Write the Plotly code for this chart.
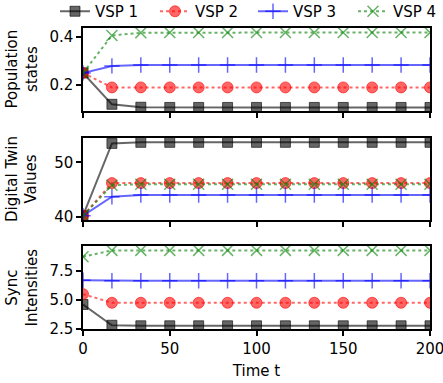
import plotly.graph_objects as go
from plotly.subplots import make_subplots

time_t = [0, 16.67, 33.33, 50, 66.67, 83.33, 100, 116.67, 133.33, 150, 166.67, 183.33, 200]
series_names = ["VSP 1", "VSP 2", "VSP 3", "VSP 4"]

pop_states = [
    [0.25, 0.12, 0.108, 0.107, 0.107, 0.107, 0.107, 0.107, 0.107, 0.107, 0.107, 0.107, 0.107],
    [0.25, 0.19, 0.19, 0.19, 0.19, 0.19, 0.19, 0.19, 0.19, 0.19, 0.19, 0.19, 0.19],
    [0.25, 0.279, 0.283, 0.283, 0.283, 0.283, 0.283, 0.283, 0.283, 0.283, 0.283, 0.283, 0.283],
    [0.25, 0.405, 0.416, 0.417, 0.417, 0.417, 0.417, 0.417, 0.417, 0.417, 0.417, 0.417, 0.417],
]
twin_values = [
    [40.2, 53.5, 53.7, 53.7, 53.7, 53.7, 53.7, 53.7, 53.7, 53.7, 53.7, 53.7, 53.7],
    [40.2, 46.2, 46.2, 46.2, 46.2, 46.2, 46.2, 46.2, 46.2, 46.2, 46.2, 46.2, 46.2],
    [40.2, 43.7, 44.0, 44.0, 44.0, 44.0, 44.0, 44.0, 44.0, 44.0, 44.0, 44.0, 44.0],
    [40.2, 45.8, 46.0, 46.0, 46.0, 46.0, 46.0, 46.0, 46.0, 46.0, 46.0, 46.0, 46.0],
]
sync_intensities = [
    [4.6, 2.8, 2.75, 2.75, 2.75, 2.75, 2.75, 2.75, 2.75, 2.75, 2.75, 2.75, 2.75],
    [5.5, 4.75, 4.75, 4.75, 4.75, 4.75, 4.75, 4.75, 4.75, 4.75, 4.75, 4.75, 4.75],
    [6.7, 6.66, 6.66, 6.66, 6.66, 6.66, 6.66, 6.66, 6.66, 6.66, 6.66, 6.66, 6.66],
    [8.75, 9.3, 9.3, 9.3, 9.3, 9.3, 9.3, 9.3, 9.3, 9.3, 9.3, 9.3, 9.3],
]
panel_titles = ["Population<br>states", "Digital Twin<br>Values", "Sync<br>Intensities"]

colors = ["rgba(0,0,0,0.6)", "rgba(255,0,0,0.6)", "rgba(0,0,255,0.6)", "rgba(0,128,0,0.6)"]
dashes = ["solid", "dot", "solid", "dot"]
symbols = ["square", "circle", "cross-thin", "x-thin"]
msizes = [10, 11, 11, 11]

FONT = "DejaVu Sans"
FS = 15

# plot area geometry (pixels)
L_MARGIN, PLOT_W = 83, 347
legend_left_px = [55, 155, 253, 353]
legend_ids = ["legend", "legend2", "legend3", "legend4"]

fig = make_subplots(rows=3, cols=1, shared_xaxes=True)

panels = [pop_states, twin_values, sync_intensities]
for r, data in enumerate(panels, start=1):
    for i, name in enumerate(series_names):
        thin = symbols[i].endswith("thin")
        fig.add_trace(go.Scatter(
            x=time_t, y=data[i], name=name, mode="lines+markers",
            showlegend=(r == 1), legendgroup=name, legend=legend_ids[i],
            line=dict(color=colors[i], width=2, dash=dashes[i]),
            marker=dict(symbol=symbols[i], size=msizes[i], color=colors[i],
                        line=dict(color=colors[i], width=1.5 if thin else 1)),
        ), row=r, col=1)

axis_common = dict(showline=True, linecolor="black", linewidth=1.5, mirror=True,
                   ticks="outside", ticklen=5, tickwidth=1.5, tickcolor="black",
                   showgrid=False, zeroline=False, ticklabeloverflow="allow",
                   tickfont=dict(family=FONT, size=FS, color="black"))

fig.update_layout(
    width=443, height=383,
    margin=dict(l=L_MARGIN, r=13, t=28, b=54, autoexpand=False),
    paper_bgcolor="white", plot_bgcolor="white",
    font=dict(family=FONT, size=FS, color="black"),
    xaxis=dict(domain=[0, 1], range=[0, 200], **axis_common),
    xaxis2=dict(domain=[0, 1], range=[0, 200], **axis_common),
    xaxis3=dict(domain=[0, 1], range=[0, 200],
                title=dict(text="Time t", font=dict(family=FONT, size=FS), standoff=9),
                **axis_common),
    yaxis=dict(domain=[0.724, 1], range=[0.092, 0.436], tickvals=[0.2, 0.4],
               tickformat=".1f", **axis_common),
    yaxis2=dict(domain=[0.362, 0.6346], range=[39.4, 54.5], tickvals=[40, 50], **axis_common),
    yaxis3=dict(domain=[0, 0.2757], range=[2.47, 9.68], tickvals=[2.5, 5.0, 7.5],
                tickformat=".1f", **axis_common),
)
for lid, lpx in zip(legend_ids, legend_left_px):
    fig.update_layout({lid: dict(orientation="h", x=(lpx - L_MARGIN) / PLOT_W, xanchor="left",
                                 xref="paper", y=1.0, yanchor="bottom", yref="paper",
                                 font=dict(family=FONT, size=FS),
                                 bgcolor="rgba(0,0,0,0)")})
fig.update_xaxes(tickvals=[0, 50, 100, 150, 200])

centers = [(0.724 + 1) / 2, (0.362 + 0.6346) / 2, 0.2757 / 2]
for yc, txt in zip(centers, panel_titles):
    fig.add_annotation(text=txt, xref="paper", yref="paper", x=0, y=yc,
                       xanchor="center", yanchor="middle",
                       xshift=-61, textangle=-90, showarrow=False,
                       font=dict(family=FONT, size=FS, color="black"))

fig.write_html("out.html", config={"displayModeBar": False},
               post_script="document.body.style.margin='0';document.body.style.overflow='hidden';")
